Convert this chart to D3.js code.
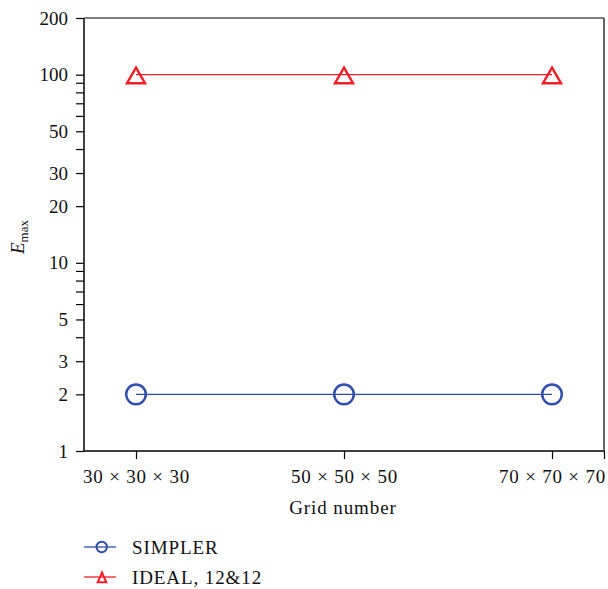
<!DOCTYPE html>
<html>
<head>
<meta charset="utf-8">
<script src="https://cdn.jsdelivr.net/npm/d3@7"></script>
<style>
  body { margin: 0; background: #fff; }
  svg { display: block; font-family: "Liberation Serif", "DejaVu Serif", serif; }
</style>
</head>
<body>
<svg id="chart" width="608" height="589"></svg>
<script>
// Grid resolutions (points per side) and their labels
const gridSizes = [30, 50, 70];
const gridLabels = ["30 × 30 × 30", "50 × 50 × 50", "70 × 70 × 70"];

// Maximum E for each solver
const simplerValues = [2, 2, 2];
const idealValues = [100, 100, 100];

// Y-axis ticks
const yMajorTicks = [1, 2, 3, 5, 10, 20, 30, 50, 100, 200];
const yMinorTicks = [4, 6, 7, 8, 9, 40, 60, 70, 80, 90];

const seriesNames = ["SIMPLER", "IDEAL, 12&12"];

const svg = d3.select("#chart");
const m = { left: 84, right: 604, top: 18, bottom: 451 };

const x = d3.scaleLinear().domain([25, 75]).range([m.left, m.right]);
const y = d3.scaleLog().domain([1, 200]).range([m.bottom, m.top]);

const blue = "#2f4fa8";
const red = "#ee2029";
const FS = 19;

// frame: top and right edges
svg.append("line").attr("x1", m.left).attr("x2", m.right)
  .attr("y1", m.top).attr("y2", m.top)
  .attr("stroke", "#555").attr("stroke-width", 1.5);
svg.append("line").attr("x1", m.right).attr("x2", m.right)
  .attr("y1", m.top).attr("y2", m.bottom)
  .attr("stroke", "#333").attr("stroke-width", 1.5);

// y axis
const yAxis = svg.append("g").attr("transform", `translate(${m.left},0)`)
  .call(d3.axisLeft(y).tickValues(yMajorTicks).tickFormat(d3.format("d"))
    .tickSize(8).tickPadding(8));
yAxis.append("g").selectAll("line").data(yMinorTicks).join("line")
  .attr("x1", -8).attr("x2", 0)
  .attr("y1", d => y(d)).attr("y2", d => y(d))
  .attr("stroke", "#000").attr("stroke-width", 1.2);

// x axis
const xAxis = svg.append("g").attr("transform", `translate(0,${m.bottom})`)
  .call(d3.axisBottom(x).tickValues(gridSizes.concat([75]))
    .tickFormat((d, i) => gridLabels[i] || "").tickSize(8).tickPadding(11));

[yAxis, xAxis].forEach(g => {
  g.select(".domain").attr("stroke", "#000").attr("stroke-width", 1.5);
  g.selectAll(".tick line").attr("stroke", "#000").attr("stroke-width", 1.2);
  g.selectAll("text").attr("font-family", "Liberation Serif, serif")
    .attr("font-size", FS).attr("fill", "#111");
});
xAxis.selectAll("text").attr("letter-spacing", 0.8);
yAxis.select(".domain").attr("d", `M0,${m.top}V${m.bottom}`);
xAxis.select(".domain").attr("d", `M${m.left},0H${m.right}`);

// axis titles
svg.append("text")
  .attr("x", 343).attr("y", 514)
  .attr("text-anchor", "middle").attr("font-size", FS).attr("letter-spacing", 0.9)
  .attr("fill", "#111")
  .text("Grid number");

const yt = svg.append("text")
  .attr("transform", "translate(24,237) rotate(-90)")
  .attr("text-anchor", "middle").attr("font-size", FS).attr("fill", "#111");
yt.append("tspan").attr("font-style", "italic").text("E");
yt.append("tspan").attr("font-size", 13).attr("dy", 4).text("max");

// series
const line = d3.line().x((d, i) => x(gridSizes[i])).y(d => y(d));
const triangle = (w, up, down) => `M0,${-up}L${w},${down}L${-w},${down}Z`;

svg.append("path").datum(simplerValues).attr("d", line)
  .attr("fill", "none").attr("stroke", blue).attr("stroke-width", 1.3);
svg.append("g").selectAll("circle").data(simplerValues).join("circle")
  .attr("cx", (d, i) => x(gridSizes[i])).attr("cy", d => y(d)).attr("r", 9.8)
  .attr("fill", "none").attr("stroke", blue).attr("stroke-width", 2.5);

svg.append("path").datum(idealValues).attr("d", line)
  .attr("fill", "none").attr("stroke", red).attr("stroke-width", 1.3);
svg.append("g").selectAll("path").data(idealValues).join("path")
  .attr("transform", (d, i) => `translate(${x(gridSizes[i])},${y(d)})`)
  .attr("d", triangle(9, 7, 8.5))
  .attr("fill", "none").attr("stroke", red).attr("stroke-width", 2.5)
  .attr("stroke-linejoin", "miter");

// legend
const legend = svg.append("g");
const ly = [547, 577];
[blue, red].forEach((c, i) => {
  const g = legend.append("g").attr("transform", `translate(0,${ly[i]})`);
  g.append("line").attr("x1", 84).attr("x2", 116).attr("stroke", c).attr("stroke-width", 1.3);
  if (i === 0) {
    g.append("circle").attr("cx", 101.7).attr("r", 5.2)
      .attr("fill", "none").attr("stroke", c).attr("stroke-width", 2);
  } else {
    g.append("path").attr("transform", "translate(102,0)").attr("d", triangle(4.3, 4.5, 5.3))
      .attr("fill", "none").attr("stroke", c).attr("stroke-width", 2);
  }
  g.append("text").attr("x", 132).attr("dy", "0.35em")
    .attr("font-size", FS).attr("letter-spacing", 0.9)
    .attr("fill", "#111").text(seriesNames[i]);
});
</script>
</body>
</html>
